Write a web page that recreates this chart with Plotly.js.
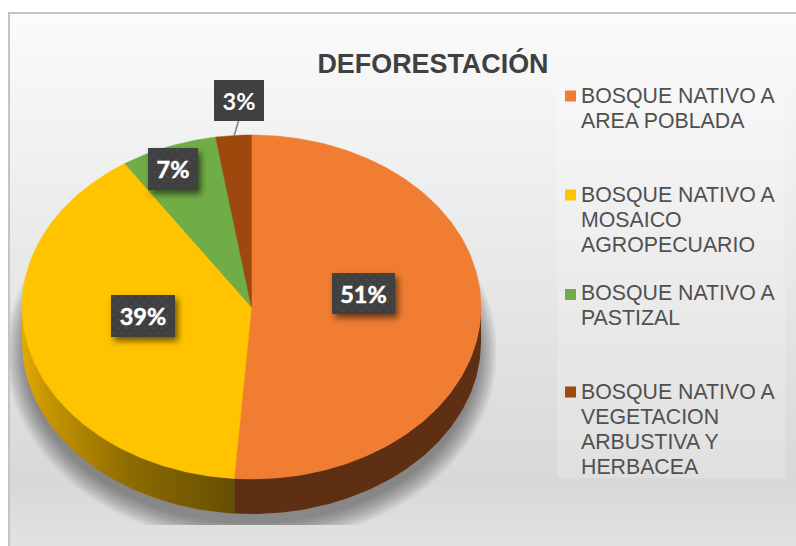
<!DOCTYPE html>
<html>
<head>
<meta charset="utf-8">
<script src="https://cdn.plot.ly/plotly-3.0.1.min.js"></script>
<style>
html,body{margin:0;padding:0;background:#fff;width:796px;height:546px;overflow:hidden}
#frame{position:absolute;left:8px;top:12px;width:788px;height:534px;box-sizing:border-box;
  border-left:2px solid #c4c4c4;border-top:2px solid #c4c4c4;
  background:linear-gradient(to bottom,#fbfbfb 0%,#d8d8d8 88%,#e2e2e2 100%)}
#chart{position:absolute;left:0;top:0;width:796px;height:546px}
.annotation .bg{filter:drop-shadow(3px 4px 3px rgba(0,0,0,.55))}
</style>
</head>
<body>
<svg width="0" height="0" style="position:absolute">
  <defs>
    <pattern id="dots" width="9" height="9" patternUnits="userSpaceOnUse">
      <rect width="9" height="9" fill="#404040"/>
      <circle cx="2" cy="2" r="1" fill="#4d4d4d"/>
      <circle cx="6.5" cy="6.5" r="1" fill="#4d4d4d"/>
    </pattern>
  </defs>
</svg>
<div id="frame"></div>
<div id="chart"></div>
<script>
// ---- data ----
const chartTitle = 'DEFORESTACIÓN';
const categories = [
  ['BOSQUE NATIVO A', 'AREA POBLADA'],
  ['BOSQUE NATIVO A', 'MOSAICO', 'AGROPECUARIO'],
  ['BOSQUE NATIVO A', 'PASTIZAL'],
  ['BOSQUE NATIVO A', 'VEGETACION', 'ARBUSTIVA Y', 'HERBACEA']
];
const shares = [51.2, 39.49, 6.81, 2.5];
const sliceColors = ['#F07D32', '#FFC300', '#70AD47', '#9E480E'];

// ---- layout constants (pixels in a 796x546 coordinate space) ----
const cx = 251.5, cy = 307, rx = 229.5, ry = 172, depth = 35;
const labelCenters = [[363.5, 293.5], [143, 316], [173, 169], [239, 100.5]];
const labelSizes = [[63, 41], [64, 42], [50, 42], [50, 41]];
const legendLineY = [[96, 120.5], [194.5, 219.5, 244.5], [293, 318], [392, 417, 442, 467]];
const swatchY = [96, 195, 294.5, 392];
const total = shares.reduce((a, b) => a + b, 0);
const STEP = 1;

function pt(deg, yc, a, b) {
  const t = deg * Math.PI / 180;
  return [cx + (a || rx) * Math.sin(t), (yc === undefined ? cy : yc) - (b || ry) * Math.cos(t)];
}
function arc(d0, d1, yc) {
  const out = [], n = Math.max(2, Math.ceil(Math.abs(d1 - d0) / STEP));
  for (let i = 0; i <= n; i++) out.push(pt(d0 + (d1 - d0) * i / n, yc));
  return out;
}
const traces = [];

// soft shadow below the disc
for (let k = 0; k < 14; k++) {
  const xs = [], ys = [];
  for (let d = 0; d <= 360; d += 2) {
    const p = pt(d, cy + 45, rx - 2 + k * 1.4, ry + k * 1.6);
    xs.push(Math.min(Math.max(p[0], 10), 496));
    ys.push(Math.min(p[1], 525));
  }
  traces.push({type: 'scatter', mode: 'lines', x: xs, y: ys, fill: 'toself',
    fillcolor: 'rgba(0,0,0,0.03)', line: {width: 0}, hoverinfo: 'skip', showlegend: false});
}

// slice start / end angles
const angles = [];
let acc = 0;
shares.forEach(v => { const a0 = acc / total * 360; acc += v; angles.push([a0, acc / total * 360]); });

// outer walls
const wallStyle = [
  {fillcolor: '#5F2F13'},
  {fillcolor: '#8a6800', fillgradient: {type: 'horizontal',
    colorscale: [[0, '#E3AB00'], [0.1, '#C99700'], [0.5, '#8E6C00'], [1, '#654E00']]}}
];
[0, 1].forEach(i => {
  const a0 = Math.max(angles[i][0], 90), a1 = Math.min(angles[i][1], 270);
  const top = arc(a0, a1), bottom = arc(a1, a0, cy + depth);
  const pts = top.concat(bottom); pts.push(top[0]);
  traces.push(Object.assign({type: 'scatter', mode: 'lines', x: pts.map(p => p[0]), y: pts.map(p => p[1]),
    fill: 'toself', line: {width: 0}, hoverinfo: 'skip', showlegend: false}, wallStyle[i]));
});

// top faces
shares.forEach((v, i) => {
  const pts = [[cx, cy]].concat(arc(angles[i][0], angles[i][1]));
  pts.push([cx, cy]);
  traces.push({type: 'scatter', mode: 'lines', x: pts.map(p => p[0]), y: pts.map(p => p[1]),
    fill: 'toself', fillcolor: sliceColors[i], line: {width: 0.5, color: sliceColors[i]},
    name: categories[i].join(' '), text: Math.round(v) + '%', hoverinfo: 'name+text', showlegend: false});
});

// leader line of the smallest slice
traces.push({type: 'scatter', mode: 'lines', x: [238.5, 234], y: [121, 136],
  line: {color: '#7F7F7F', width: 1.5}, hoverinfo: 'skip', showlegend: false});

// legend swatches
traces.push({type: 'scatter', mode: 'markers', x: swatchY.map(() => 570.5), y: swatchY,
  marker: {symbol: 'square', size: 11, color: sliceColors, line: {width: 0}},
  hoverinfo: 'skip', showlegend: false});

const annotations = [];
shares.forEach((v, i) => {
  annotations.push({xref: 'x', yref: 'y', x: labelCenters[i][0], y: labelCenters[i][1],
    text: '<b>' + Math.round(v) + '%</b>', showarrow: false, xanchor: 'center', yanchor: 'middle',
    width: labelSizes[i][0], height: labelSizes[i][1], bgcolor: '#404040', borderpad: 0, borderwidth: 0,
    font: {family: 'Lato, sans-serif', size: 23.5, color: '#ffffff'}, captureevents: false});
});
categories.forEach((lines, i) => {
  lines.forEach((line, j) => {
    annotations.push({xref: 'x', yref: 'y', x: 580, y: legendLineY[i][j], text: line, showarrow: false,
      xanchor: 'left', yanchor: 'middle', align: 'left', borderpad: 0,
      font: {family: '"Liberation Sans", Arial, sans-serif', size: 21.3, color: '#505050'}});
  });
});

const layout = {
  width: 796, height: 546, margin: {l: 0, r: 0, t: 0, b: 0},
  paper_bgcolor: 'rgba(0,0,0,0)', plot_bgcolor: 'rgba(0,0,0,0)',
  showlegend: false, hovermode: 'closest',
  title: {text: '<b>' + chartTitle + '</b>', x: 433 / 796, xanchor: 'center', y: 1 - 64 / 546, yanchor: 'middle',
    font: {family: '"Liberation Sans", Arial, sans-serif', size: 26.9, color: '#404040'}},
  xaxis: {range: [0, 796], visible: false, fixedrange: true},
  yaxis: {range: [546, 0], visible: false, fixedrange: true},
  shapes: [{type: 'rect', xref: 'x', yref: 'y', x0: 557, x1: 785, y0: 82, y1: 478,
    fillcolor: 'rgba(255,255,255,0.2)', line: {width: 0}, layer: 'below'}],
  annotations: annotations
};
Plotly.newPlot('chart', traces, layout, {displayModeBar: false, responsive: false});
</script>
<style>
.annotation:nth-child(-n+4) .bg{fill:url(#dots)!important}
.annotation:nth-child(-n+4) text{stroke:#fff;stroke-width:.5px}
.annotation:nth-child(n+5) .bg{filter:none}
</style>
</body>
</html>
